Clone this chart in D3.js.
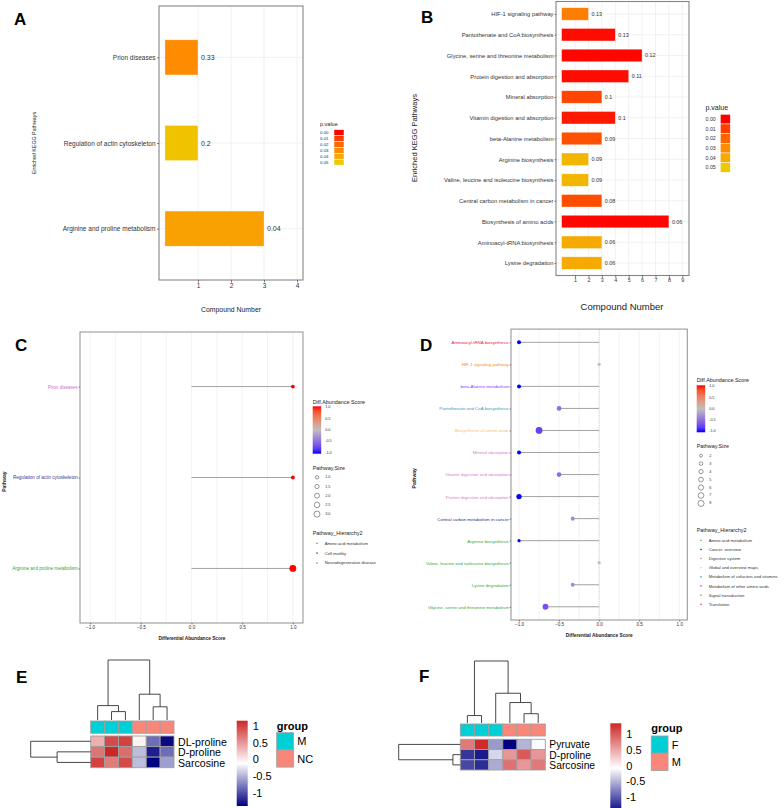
<!DOCTYPE html>
<html>
<head>
<meta charset="utf-8">
<script src="https://cdn.jsdelivr.net/npm/d3@7"></script>
<style>
body { margin: 0; background: #fff; }
text { font-family: "Liberation Sans", Arial, sans-serif; }
</style>
</head>
<body>
<script>
// ---- panel A : enriched pathways (group 1)
var aPathways = ["Prion diseases", "Regulation of actin cytoskeleton", "Arginine and proline metabolism"];
var aCounts = [1, 1, 3];
var aRatios = ["0.33", "0.2", "0.04"];
var aPvalues = [0.03, 0.048, 0.037];
var aTicks = [1, 2, 3, 4];

// ---- panel B : enriched pathways (group 2)
var bPathways = ["HIF-1 signaling pathway", "Pantothenate and CoA biosynthesis",
  "Glycine, serine and threonine metabolism", "Protein digestion and absorption",
  "Mineral absorption", "Vitamin digestion and absorption", "beta-Alanine metabolism",
  "Arginine biosynthesis", "Valine, leucine and isoleucine biosynthesis",
  "Central carbon metabolism in cancer", "Biosynthesis of amino acids",
  "Aminoacyl-tRNA biosynthesis", "Lysine degradation"];
var bCounts = [2, 4, 6, 5, 3, 4, 3, 2, 2, 3, 8, 3, 3];
var bRatios = ["0.13", "0.13", "0.12", "0.11", "0.1", "0.1", "0.09", "0.09", "0.09", "0.08", "0.06", "0.06", "0.06"];
var bPvalues = [0.026, 0.002, 0.001, 0.002, 0.012, 0.004, 0.015, 0.044, 0.044, 0.014, 0.001, 0.04, 0.04];
var bTicks = [1, 2, 3, 4, 5, 6, 7, 8, 9];

var pTicks = [0, 0.01, 0.02, 0.03, 0.04, 0.05];
var pLabels = ["0.00", "0.01", "0.02", "0.03", "0.04", "0.05"];

// ---- panel C : differential abundance (group 1)
var cPathways = ["Prion diseases", "Regulation of actin cytoskeleton", "Arginine and proline metabolism"];
var cScores = [1, 1, 1];
var cSizes = [1, 1, 3];
var cHierarchy = ["Neurodegenerative disease", "Cell motility", "Amino acid metabolism"];
var cHierarchyLevels = ["Amino acid metabolism", "Cell motility", "Neurodegenerative disease"];
var cSizeTicks = [1, 1.5, 2, 2.5, 3];
var cSizeLabels = ["1.0", "1.5", "2.0", "2.5", "3.0"];

// ---- panel D : differential abundance (group 2)
var dPathways = ["Aminoacyl-tRNA biosynthesis", "HIF-1 signaling pathway", "beta-Alanine metabolism",
  "Pantothenate and CoA biosynthesis", "Biosynthesis of amino acids", "Mineral absorption",
  "Vitamin digestion and absorption", "Protein digestion and absorption",
  "Central carbon metabolism in cancer", "Arginine biosynthesis",
  "Valine, leucine and isoleucine biosynthesis", "Lysine degradation",
  "Glycine, serine and threonine metabolism"];
var dScores = [-1, 0, -1, -0.5, -0.75, -1, -0.5, -1, -0.33, -1, 0, -0.33, -0.67];
var dSizes = [3, 2, 3, 4, 8, 3, 4, 5, 3, 2, 2, 3, 6];
var dHierarchy = ["Translation", "Signal transduction", "Metabolism of other amino acids",
  "Metabolism of cofactors and vitamins", "Global and overview maps", "Digestive system",
  "Digestive system", "Digestive system", "Cancer: overview", "Amino acid metabolism",
  "Amino acid metabolism", "Amino acid metabolism", "Amino acid metabolism"];
var dHierarchyLevels = ["Amino acid metabolism", "Cancer: overview", "Digestive system",
  "Global and overview maps", "Metabolism of cofactors and vitamins",
  "Metabolism of other amino acids", "Signal transduction", "Translation"];
var dSizeTicks = [2, 3, 4, 5, 6, 7, 8];
var dSizeLabels = ["2", "3", "4", "5", "6", "7", "8"];

var scoreTicks = [-1, -0.5, 0, 0.5, 1];
var scoreLabels = ["-1.0", "-0.5", "0.0", "0.5", "1.0"];

// ---- panel E / F : heatmaps
var eRows = ["DL-proline", "D-proline", "Sarcosine"];
var eGroups = ["M", "M", "M", "NC", "NC", "NC"];
var eGroupLevels = ["M", "NC"];
var eValues = [
  [0.35, 0.95, 1.0, -0.05, -0.85, -1.35],
  [0.7, 1.16, 0.75, -0.45, -1.25, -0.85],
  [1.0, 0.65, 0.95, -0.45, -1.4, -0.6]
];
var eRange = [-1.4, 1.16];
// trees: [height, left, right], leaves are indices
var eColTree = [1.0, [0.24, 0, [0.14, 1, 2]], [0.43, 3, [0.22, 4, 5]]];
var eRowTree = [1.0, 0, [0.56, 1, 2]];

var fRows = ["Pyruvate", "D-proline", "Sarcosine"];
var fGroups = ["F", "F", "F", "M", "M", "M"];
var fGroupLevels = ["F", "M"];
var fValues = [
  [0.8, 1.3, -0.65, -1.5, -0.5, -0.1],
  [-1.2, -1.35, -0.3, 0.6, 1.0, 0.6],
  [-1.1, -1.25, -0.55, 0.85, 0.6, 0.8]
];
var fRange = [-1.5, 1.34];
var fColTree = [1.0, [0.12, 0, 1], [0.48, 2, [0.33, 3, [0.15, 4, 5]]]];
var fRowTree = [1.0, 0, [0.12, 1, 2]];

var heatTicks = [1, 0.5, 0, -0.5, -1];
var heatLabels = ["1", "0.5", "0", "-0.5", "-1"];

// ---- colours
var pColor = d3.scaleLinear().domain(pTicks)
  .range(["#FF0000", "#FF3D00", "#FF6600", "#FF8C00", "#F6AA00", "#EEC900"]).clamp(true);
var scoreColor = d3.scaleLinear().domain([-1, 0, 1])
  .range(["#0000FF", "#BEBEBE", "#FF0000"]).interpolate(d3.interpolateLab);
var hierColors = {
  "Amino acid metabolism": "#35A83A",
  "Cancer: overview": "#2B2B83",
  "Cell motility": "#3A3D98",
  "Digestive system": "#D880C8",
  "Global and overview maps": "#FDC06A",
  "Metabolism of cofactors and vitamins": "#3A98C9",
  "Metabolism of other amino acids": "#9933FF",
  "Signal transduction": "#F28A2E",
  "Translation": "#E2204F",
  "Neurodegenerative disease": "#CF6FCF"
};
var groupColor = ["#00D0D6", "#F8877A"];

var svg = d3.select("body").append("svg").attr("width", 784).attr("height", 808);
var defs = svg.append("defs");

function txt(g, x, y, s, size, o) {
  o = o || {};
  var t = g.append("text").attr("x", x).attr("y", y).text(s)
    .attr("font-size", size)
    .attr("fill", o.fill || "#000")
    .attr("text-anchor", o.anchor || "start")
    .attr("dominant-baseline", "central");
  if (o.bold) t.attr("font-weight", "bold");
  if (o.rotate) t.attr("transform", "rotate(-90," + x + "," + y + ")");
  return t;
}

function styleAxis(ax, size) {
  ax.select(".domain").remove();
  ax.selectAll("line").attr("stroke", "#333").attr("stroke-width", 0.6);
  ax.selectAll("text").attr("font-size", size).attr("fill", "#333");
}

// ---------- bar panels (A, B)
function barPanel(p) {
  var g = svg.append("g");
  var x = d3.scaleLinear().domain(p.xDomain).range([p.left, p.right]);
  var y = d3.scalePoint().domain(p.names).range([p.top, p.bottom]).padding(0.6);
  var bh = y.step() * p.barFrac;

  g.selectAll("line.vg").data(p.ticks).join("line").attr("class", "vg")
    .attr("x1", d => x(d)).attr("x2", d => x(d)).attr("y1", p.top).attr("y2", p.bottom)
    .attr("stroke", "#EBEBEB").attr("stroke-width", 0.7);
  g.selectAll("line.hg").data(p.names).join("line").attr("class", "hg")
    .attr("x1", p.left).attr("x2", p.right).attr("y1", d => y(d)).attr("y2", d => y(d))
    .attr("stroke", "#EBEBEB").attr("stroke-width", 0.7);

  g.selectAll("rect.bar").data(p.names).join("rect").attr("class", "bar")
    .attr("x", x(0)).attr("y", d => y(d) - bh / 2)
    .attr("width", (d, i) => x(p.counts[i]) - x(0)).attr("height", bh)
    .attr("fill", (d, i) => pColor(p.pvals[i]))
    .attr("stroke", "#fff").attr("stroke-opacity", 0.5).attr("stroke-width", 0.6);

  g.selectAll("text.val").data(p.names).join("text").attr("class", "val")
    .attr("x", (d, i) => x(p.counts[i]) + p.valGap).attr("y", d => y(d))
    .attr("dominant-baseline", "central").attr("font-size", p.valFont).attr("fill", "#333")
    .text((d, i) => p.ratios[i]);

  g.append("rect").attr("x", p.left).attr("y", p.top)
    .attr("width", p.right - p.left).attr("height", p.bottom - p.top)
    .attr("fill", "none").attr("stroke", "#858585").attr("stroke-width", 1.1);

  var xa = g.append("g").attr("transform", "translate(0," + p.bottom + ")")
    .call(d3.axisBottom(x).tickValues(p.ticks).tickSize(2.5).tickPadding(0.5).tickFormat(d3.format("d")));
  styleAxis(xa, p.tickFont);
  var ya = g.append("g").attr("transform", "translate(" + p.left + ",0)")
    .call(d3.axisLeft(y).tickSize(p.yTick).tickPadding(p.yPad));
  styleAxis(ya, p.labelFont);

  txt(g, p.xTitle[0], p.xTitle[1], "Compound Number", p.xTitleFont, { anchor: "middle", fill: "#222" });
  txt(g, p.yTitle[0], p.yTitle[1], "Enriched KEGG Pathways", p.yTitleFont, { anchor: "middle", rotate: true, fill: "#222" });

  // p.value legend
  var L = p.legend;
  txt(g, L.x, L.titleY, "p.value", L.titleFont, { fill: "#222" });
  g.selectAll("rect.key").data(pTicks).join("rect").attr("class", "key")
    .attr("x", L.boxX).attr("y", (d, i) => L.boxY + i * L.boxH)
    .attr("width", L.boxW).attr("height", L.boxH)
    .attr("fill", d => pColor(d)).attr("stroke", "#fff").attr("stroke-width", 0.5);
  g.selectAll("text.key").data(pLabels).join("text").attr("class", "key")
    .attr("x", L.x).attr("y", (d, i) => L.boxY + (i + 0.5) * L.boxH)
    .attr("dominant-baseline", "central").attr("font-size", L.labelFont).attr("fill", "#333")
    .text(d => d);
}

// ---------- lollipop panels (C, D)
function lollipopPanel(p) {
  var g = svg.append("g");
  var x = d3.scaleLinear().domain([-1.1, 1.1]).range([p.left, p.right]);
  var y = d3.scalePoint().domain(p.names).range([p.top, p.bottom]).padding(0.6);
  var size = d3.scaleSqrt().domain(p.sizeDomain).range(p.rRange);
  var grid = [-1, -0.75, -0.5, -0.25, 0, 0.25, 0.5, 0.75, 1];

  g.selectAll("line.vg").data(grid).join("line").attr("class", "vg")
    .attr("x1", d => x(d)).attr("x2", d => x(d)).attr("y1", p.top).attr("y2", p.bottom)
    .attr("stroke", "#EBEBEB").attr("stroke-width", 0.6);
  if (p.zeroLine) {
    g.append("line").attr("x1", x(0)).attr("x2", x(0)).attr("y1", p.top).attr("y2", p.bottom)
      .attr("stroke", "#BBB").attr("stroke-width", 0.6).attr("stroke-dasharray", "1,1");
  }

  g.selectAll("line.seg").data(p.names).join("line").attr("class", "seg")
    .attr("x1", x(0)).attr("x2", (d, i) => x(p.scores[i]))
    .attr("y1", d => y(d)).attr("y2", d => y(d))
    .attr("stroke", "#999").attr("stroke-width", 0.9);
  g.selectAll("circle.dot").data(p.names).join("circle").attr("class", "dot")
    .attr("cx", (d, i) => x(p.scores[i])).attr("cy", d => y(d))
    .attr("r", (d, i) => size(p.sizes[i]))
    .attr("fill", (d, i) => scoreColor(p.scores[i]));

  g.append("rect").attr("x", p.left).attr("y", p.top)
    .attr("width", p.right - p.left).attr("height", p.bottom - p.top)
    .attr("fill", "none").attr("stroke", "#999").attr("stroke-width", 1.1);

  var xa = g.append("g").attr("transform", "translate(0," + p.bottom + ")")
    .call(d3.axisBottom(x).tickValues(scoreTicks).tickSize(1.5).tickPadding(0.8).tickFormat(d3.format(".1f")));
  styleAxis(xa, 4.6);
  var ya = g.append("g").attr("transform", "translate(" + p.left + ",0)")
    .call(d3.axisLeft(y).tickSize(1.3).tickPadding(0.9));
  styleAxis(ya, p.labelFont);
  ya.selectAll("text").attr("fill", (d, i) => hierColors[p.hier[i]]);

  txt(g, p.xTitle[0], p.xTitle[1], "Differential Abundance Score", 4.8, { anchor: "middle", bold: true, fill: "#222" });
  txt(g, p.yTitle[0], p.yTitle[1], "Pathway", 5, { anchor: "middle", bold: true, rotate: true, fill: "#222" });

  // colour bar legend
  var L = p.legend;
  var gid = "grad" + p.id;
  var grad = defs.append("linearGradient").attr("id", gid)
    .attr("x1", 0).attr("y1", 0).attr("x2", 0).attr("y2", 1);
  grad.selectAll("stop").data(d3.range(0, 1.0001, 0.1)).join("stop")
    .attr("offset", d => d).attr("stop-color", d => scoreColor(1 - 2 * d));
  var ly = d3.scaleLinear().domain([-1, 1]).range([L.barBottom, L.barTop]);
  txt(g, L.x, L.titleY, "Diff.Abundance.Score", 5.4, { fill: "#222" });
  g.append("rect").attr("x", L.x).attr("y", ly(1) - 1).attr("width", 8.5)
    .attr("height", ly(-1) - ly(1) + 2).attr("fill", "url(#" + gid + ")");
  g.selectAll("text.ct").data(scoreTicks).join("text").attr("class", "ct")
    .attr("x", L.x + 12.5).attr("y", d => ly(d)).attr("dominant-baseline", "central")
    .attr("font-size", 3.8).attr("fill", "#333").text((d, i) => scoreLabels[i]);

  txt(g, L.x, L.sizeTitleY, "Pathway.Size", 5.4, { fill: "#222" });
  g.selectAll("circle.sk").data(p.sizeTicks).join("circle").attr("class", "sk")
    .attr("cx", L.x + 4.3).attr("cy", (d, i) => L.sizeY + i * L.sizeStep)
    .attr("r", d => size(d) * 0.9).attr("fill", "none").attr("stroke", "#333").attr("stroke-width", 0.5);
  g.selectAll("text.sk").data(p.sizeLabels).join("text").attr("class", "sk")
    .attr("x", L.x + 12.5).attr("y", (d, i) => L.sizeY + i * L.sizeStep)
    .attr("dominant-baseline", "central").attr("font-size", 3.8).attr("fill", "#333").text(d => d);

  txt(g, L.x, L.hierTitleY, "Pathway_Hierarchy2", 5.4, { fill: "#222" });
  g.selectAll("circle.hk").data(p.hierLevels).join("circle").attr("class", "hk")
    .attr("cx", L.x + 4.3).attr("cy", (d, i) => L.hierY + i * L.hierStep)
    .attr("r", 0.8).attr("fill", d => hierColors[d]);
  g.selectAll("text.hk").data(p.hierLevels).join("text").attr("class", "hk")
    .attr("x", L.x + 12).attr("y", (d, i) => L.hierY + i * L.hierStep)
    .attr("dominant-baseline", "central").attr("font-size", 4.2).attr("fill", "#333").text(d => d);
}

// ---------- heatmaps (E, F)
function heatmapPanel(p) {
  var g = svg.append("g");
  var x = d3.scaleBand().domain(d3.range(p.groups.length)).range([p.x0, p.x1]);
  var y = d3.scaleBand().domain(d3.range(p.rows.length)).range([p.heatTop, p.heatBottom]);
  var mid = (p.range[0] + p.range[1]) / 2;
  var color = d3.scaleLinear().domain([p.range[0], mid, p.range[1]])
    .range(["#000080", "#FFFFFF", "#CD2626"]);
  var gcol = d3.scaleOrdinal().domain(p.groupLevels).range(groupColor);

  g.selectAll("rect.ann").data(p.groups).join("rect").attr("class", "ann")
    .attr("x", (d, i) => x(i)).attr("y", p.annTop).attr("width", x.bandwidth())
    .attr("height", p.annBottom - p.annTop).attr("fill", d => gcol(d))
    .attr("stroke", "#A0A0A0").attr("stroke-width", 0.9);

  p.values.forEach(function (row, r) {
    g.selectAll("rect.c" + r).data(row).join("rect").attr("class", "c" + r)
      .attr("x", (d, i) => x(i)).attr("y", y(r)).attr("width", x.bandwidth()).attr("height", y.bandwidth())
      .attr("fill", d => color(d)).attr("stroke", "#A0A0A0").attr("stroke-width", 0.9);
  });

  g.selectAll("text.rl").data(p.rows).join("text").attr("class", "rl")
    .attr("x", p.x1 + 4).attr("y", (d, i) => y(i) + y.bandwidth() / 2 + 0.5)
    .attr("dominant-baseline", "central").attr("font-size", p.labelFont).attr("fill", "#000").text(d => d);

  // column dendrogram
  var ch = d3.scaleLinear().domain([0, 1]).range([p.colLeafY, p.colRootY]);
  function drawCol(node) {
    if (typeof node === "number") return { pos: x(node) + x.bandwidth() / 2, h: 0 };
    var a = drawCol(node[1]), b = drawCol(node[2]);
    g.append("path").attr("d", "M" + a.pos + "," + ch(a.h) + "V" + ch(node[0]) + "H" + b.pos + "V" + ch(b.h))
      .attr("fill", "none").attr("stroke", "#333").attr("stroke-width", 0.9);
    return { pos: (a.pos + b.pos) / 2, h: node[0] };
  }
  drawCol(p.colTree);

  // row dendrogram
  var rh = d3.scaleLinear().domain([0, 1]).range([p.x0, p.rowRootX]);
  function drawRow(node) {
    if (typeof node === "number") return { pos: y(node) + y.bandwidth() / 2, h: 0 };
    var a = drawRow(node[1]), b = drawRow(node[2]);
    g.append("path").attr("d", "M" + rh(a.h) + "," + a.pos + "H" + rh(node[0]) + "V" + b.pos + "H" + rh(b.h))
      .attr("fill", "none").attr("stroke", "#333").attr("stroke-width", 0.9);
    return { pos: (a.pos + b.pos) / 2, h: node[0] };
  }
  drawRow(p.rowTree);

  // colour legend
  var gid = "hgrad" + p.id;
  var grad = defs.append("linearGradient").attr("id", gid)
    .attr("x1", 0).attr("y1", 0).attr("x2", 0).attr("y2", 1);
  grad.selectAll("stop").data([0, 0.5, 1]).join("stop")
    .attr("offset", d => d).attr("stop-color", d => color(p.range[1] - d * (p.range[1] - p.range[0])));
  var ly = d3.scaleLinear().domain(p.range).range([p.barBottom, p.barTop]);
  g.append("rect").attr("x", p.barX).attr("y", p.barTop).attr("width", 11)
    .attr("height", p.barBottom - p.barTop).attr("fill", "url(#" + gid + ")");
  g.selectAll("text.ht").data(heatTicks).join("text").attr("class", "ht")
    .attr("x", p.barX + 16).attr("y", d => ly(d)).attr("dominant-baseline", "central")
    .attr("font-size", 11).attr("fill", "#000").text((d, i) => heatLabels[i]);

  // group legend
  txt(g, p.groupX, p.groupTitleY, "group", 11, { bold: true });
  g.selectAll("rect.gk").data(p.groupLevels).join("rect").attr("class", "gk")
    .attr("x", p.groupX).attr("y", (d, i) => p.groupBoxY + i * 17.2)
    .attr("width", 16.7).attr("height", 17.2).attr("fill", d => gcol(d))
    .attr("stroke", "#A0A0A0").attr("stroke-width", 0.9);
  g.selectAll("text.gk").data(p.groupLevels).join("text").attr("class", "gk")
    .attr("x", p.groupX + 20.5).attr("y", (d, i) => p.groupBoxY + (i + 0.5) * 17.2)
    .attr("dominant-baseline", "central").attr("font-size", 11).attr("fill", "#000").text(d => d);
}

barPanel({
  names: aPathways, counts: aCounts, ratios: aRatios, pvals: aPvalues, ticks: aTicks,
  xDomain: [-0.18, 4.18], left: 159, right: 303, top: 6, bottom: 280, barFrac: 0.41,
  valGap: 3, valFont: 7, tickFont: 6.5, labelFont: 6.5, yTick: 2, yPad: 1.5,
  xTitle: [231, 309], xTitleFont: 6.9, yTitle: [34, 143], yTitleFont: 5.3,
  legend: { x: 320, titleY: 124, titleFont: 5.5, labelFont: 4.4, boxX: 334, boxY: 129.7, boxW: 10, boxH: 5.9 }
});

barPanel({
  names: bPathways, counts: bCounts, ratios: bRatios, pvals: bPvalues, ticks: bTicks,
  xDomain: [-0.42, 9.5], left: 556, right: 689, top: 1.5, bottom: 275.5, barFrac: 0.6,
  valGap: 3, valFont: 5.4, tickFont: 5.4, labelFont: 5.8, yTick: 1.5, yPad: 1,
  xTitle: [622, 306], xTitleFont: 9.5, yTitle: [414.7, 138], yTitleFont: 7.5,
  legend: { x: 705.5, titleY: 107.3, titleFont: 7, labelFont: 5.3, boxX: 720.3, boxY: 114.3, boxW: 10, boxH: 9.67 }
});

lollipopPanel({
  id: "C", names: cPathways, scores: cScores, sizes: cSizes, hier: cHierarchy,
  hierLevels: cHierarchyLevels, sizeTicks: cSizeTicks, sizeLabels: cSizeLabels,
  sizeDomain: [1, 3], rRange: [1.9, 3.4],
  left: 80, right: 303, top: 332, bottom: 623, labelFont: 4.6, zeroLine: false,
  xTitle: [192, 638], yTitle: [4, 481.7],
  legend: { x: 312.7, titleY: 401.7, barTop: 407.3, barBottom: 452.7,
    sizeTitleY: 467.7, sizeY: 477.3, sizeStep: 9.2,
    hierTitleY: 533.3, hierY: 543.3, hierStep: 9.8 }
});

lollipopPanel({
  id: "D", names: dPathways, scores: dScores, sizes: dSizes, hier: dHierarchy,
  hierLevels: dHierarchyLevels, sizeTicks: dSizeTicks, sizeLabels: dSizeLabels,
  sizeDomain: [2, 8], rRange: [1.6, 3.4],
  left: 511, right: 687.3, top: 329.1, bottom: 620, labelFont: 4.4, zeroLine: true,
  xTitle: [599.3, 635], yTitle: [413.7, 478.3],
  legend: { x: 696.7, titleY: 380, barTop: 386.3, barBottom: 431.3,
    sizeTitleY: 446, sizeY: 455.7, sizeStep: 7.95,
    hierTitleY: 530, hierY: 540.3, hierStep: 9.14 }
});

heatmapPanel({
  id: "E", rows: eRows, groups: eGroups, groupLevels: eGroupLevels, values: eValues, range: eRange,
  colTree: eColTree, rowTree: eRowTree,
  x0: 90.7, x1: 174, annTop: 721, annBottom: 733.3, heatTop: 736, heatBottom: 767.7,
  colLeafY: 720, colRootY: 660, rowRootX: 30.7, labelFont: 10.6,
  barX: 236.7, barTop: 720.7, barBottom: 806,
  groupX: 276.7, groupTitleY: 726, groupBoxY: 732.7
});

heatmapPanel({
  id: "F", rows: fRows, groups: fGroups, groupLevels: fGroupLevels, values: fValues, range: fRange,
  colTree: fColTree, rowTree: fRowTree,
  x0: 460.3, x1: 545.3, annTop: 724, annBottom: 736, heatTop: 739.3, heatBottom: 770,
  colLeafY: 723, colRootY: 661, rowRootX: 398.7, labelFont: 10.3,
  barX: 610.3, barTop: 723.3, barBottom: 813,
  groupX: 651.3, groupTitleY: 728.3, groupBoxY: 736
});

// panel letters
[["A", 14, 19], ["B", 421, 17], ["C", 15, 345], ["D", 420, 345], ["E", 16, 677], ["F", 419, 676]]
  .forEach(function (d) { txt(svg, d[1], d[2], d[0], 17, { bold: true }); });
</script>
</body>
</html>
